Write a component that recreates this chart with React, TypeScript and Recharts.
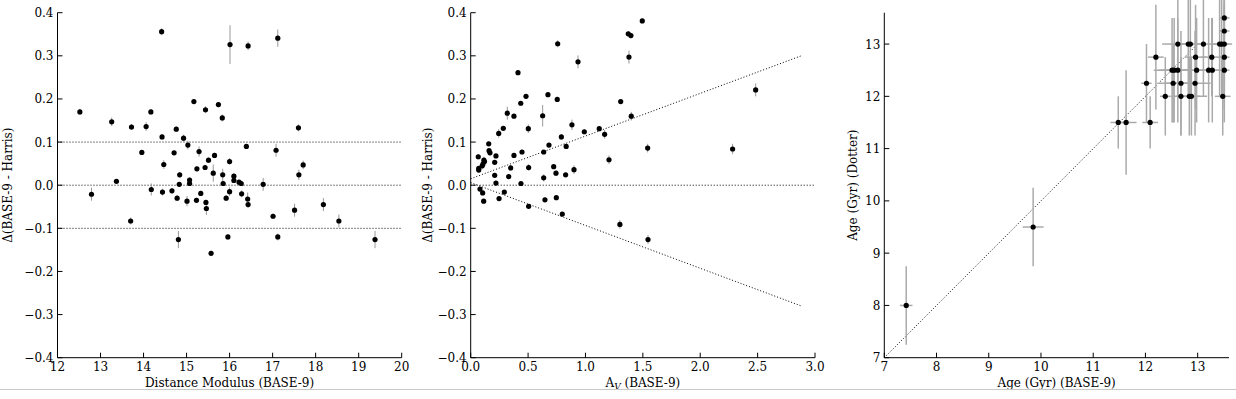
import React from "react";
import { ScatterChart, Scatter, XAxis, YAxis, ErrorBar, ReferenceLine, Label } from "recharts";

const FONT = "DejaVu Serif, serif";

// left panel: distance modulus vs delta
const dmBase9 = [
  12.52, 12.79, 13.26, 13.37, 13.7, 13.72, 13.96, 14.06, 14.17, 14.18, 14.42, 14.43, 14.47, 14.44,
  14.66, 14.71, 14.76, 14.78, 14.81, 14.84, 14.83, 14.93, 15.01, 15.03, 15.07, 15.07, 15.17, 15.23,
  15.24, 15.29, 15.33, 15.43, 15.44, 15.45, 15.46, 15.51, 15.57, 15.62, 15.65, 15.74, 15.83, 15.84,
  15.85, 15.92, 15.96, 16.0, 16.01, 16.0, 16.1, 16.1, 16.22, 16.27, 16.28, 16.39, 16.42, 16.43,
  16.43, 16.78, 17.01, 17.08, 17.12, 17.12, 17.51, 17.6, 17.61, 17.71, 18.18, 18.54, 19.38,
];
const dmDelta = [
  0.17, -0.021, 0.147, 0.009, -0.083, 0.135, 0.076, 0.136, 0.17, -0.01, 0.356, 0.112, 0.048, -0.016,
  -0.013, 0.075, 0.13, -0.03, -0.126, 0.024, 0.002, 0.109, -0.037, 0.093, 0.012, 0.004, 0.194, -0.035,
  0.038, 0.078, -0.019, 0.041, 0.175, -0.04, -0.054, 0.058, -0.158, 0.028, 0.069, 0.187, 0.156, 0.024,
  0.004, -0.03, -0.12, -0.015, 0.326, 0.055, 0.021, 0.011, 0.007, 0.004, -0.02, 0.09, -0.032, -0.045,
  0.323, 0.002, -0.072, 0.081, 0.341, -0.12, -0.058, 0.133, 0.024, 0.047, -0.045, -0.083, -0.126,
];
const dmErr = [
  0.007, 0.015, 0.01, 0.005, 0.008, 0.007, 0.005, 0.01, 0.006, 0.014, 0.008, 0.006, 0.01, 0.008,
  0.006, 0.005, 0.006, 0.006, 0.02, 0.006, 0.005, 0.008, 0.012, 0.01, 0.006, 0.005, 0.005, 0.006,
  0.006, 0.012, 0.006, 0.006, 0.008, 0.006, 0.015, 0.006, 0.006, 0.02, 0.006, 0.006, 0.008, 0.014,
  0.006, 0.006, 0.006, 0.01, 0.045, 0.008, 0.006, 0.006, 0.005, 0.005, 0.008, 0.005, 0.015, 0.007,
  0.01, 0.015, 0.006, 0.015, 0.02, 0.008, 0.015, 0.008, 0.012, 0.01, 0.015, 0.015, 0.02,
];

// middle panel: extinction vs delta
const avBase9 = [
  0.066, 0.07, 0.07, 0.1, 0.107, 0.115, 0.12, 0.081, 0.104, 0.113, 0.157, 0.16, 0.168, 0.209, 0.22,
  0.209, 0.22, 0.244, 0.247, 0.284, 0.293, 0.319, 0.331, 0.348, 0.377, 0.377, 0.412, 0.436, 0.447,
  0.438, 0.482, 0.502, 0.505, 0.505, 0.627, 0.636, 0.636, 0.647, 0.673, 0.682, 0.723, 0.743, 0.746,
  0.754, 0.758, 0.79, 0.798, 0.827, 0.832, 0.882, 0.9, 0.935, 0.99, 1.12, 1.167, 1.205, 1.3, 1.307,
  1.373, 1.379, 1.396, 1.399, 1.495, 1.542, 1.545, 2.282, 2.483,
];
const avDelta = [
  0.066, 0.039, 0.035, 0.045, 0.049, 0.058, 0.055, -0.009, -0.018, -0.037, 0.096, 0.08, 0.075, 0.053,
  0.068, 0.023, 0.005, 0.12, -0.031, 0.132, -0.016, 0.167, 0.02, 0.04, 0.16, 0.069, 0.261, 0.19, 0.077,
  0.004, 0.206, 0.131, 0.041, -0.049, 0.161, 0.077, 0.017, -0.034, 0.21, 0.093, 0.043, 0.028, -0.029,
  0.199, 0.328, 0.112, -0.067, 0.024, 0.09, 0.14, 0.036, 0.286, 0.124, 0.131, 0.118, 0.059, -0.091,
  0.194, 0.351, 0.297, 0.347, 0.16, 0.381, 0.086, -0.126, 0.084, 0.221,
];
const avErr = [
  0.006, 0.005, 0.005, 0.008, 0.01, 0.008, 0.005, 0.005, 0.005, 0.005, 0.005, 0.005, 0.006, 0.005,
  0.005, 0.005, 0.005, 0.01, 0.005, 0.005, 0.005, 0.015, 0.005, 0.005, 0.005, 0.006, 0.005, 0.005,
  0.005, 0.005, 0.005, 0.01, 0.008, 0.005, 0.025, 0.005, 0.008, 0.005, 0.005, 0.005, 0.005, 0.006,
  0.005, 0.005, 0.008, 0.006, 0.005, 0.005, 0.005, 0.012, 0.01, 0.015, 0.006, 0.006, 0.01, 0.01, 0.01,
  0.005, 0.005, 0.015, 0.006, 0.01, 0.005, 0.01, 0.01, 0.012, 0.015,
];
// dotted envelope lines in the middle panel
const avUpper = [{ x: 0, y: 0.015 }, { x: 2.88, y: 0.3 }];
const avLower = [{ x: 0, y: 0.006 }, { x: 2.88, y: -0.28 }];

// right panel: ages
const ageBase9 = [
  7.42, 9.85, 11.48, 11.63, 12.09, 12.02, 12.2, 12.38, 12.53, 12.68, 12.95, 12.51, 12.55, 12.62, 12.68,
  12.84, 12.88, 12.62, 12.82, 12.86, 12.98, 12.96, 13.11, 13.21, 13.28, 13.27, 13.42, 13.46, 13.51,
  13.51, 13.51, 13.51, 13.51, 13.48,
];
const ageDotter = [
  8.0, 9.5, 11.5, 11.5, 11.5, 12.25, 12.75, 12.0, 12.25, 12.25, 12.25, 12.5, 12.5, 12.5, 12.0, 12.0,
  12.0, 13.0, 13.0, 13.0, 12.5, 12.75, 13.0, 12.5, 12.5, 12.75, 13.0, 13.0, 13.0, 13.5, 13.25, 12.75,
  12.5, 12.0,
];
const ageBase9Err = [
  0.12, 0.2, 0.15, 0.2, 0.15, 0.1, 0.15, 0.1, 0.3, 0.3, 0.3, 0.35, 0.3, 0.3, 0.2, 0.2, 0.3, 0.3, 0.2,
  0.2, 0.3, 0.2, 0.2, 0.2, 0.2, 0.2, 0.15, 0.15, 0.15, 0.1, 0.1, 0.1, 0.1, 0.15,
];
const ageDotterErr = [
  0.75, 0.75, 0.5, 1.0, 0.5, 0.75, 1.0, 0.75, 0.75, 1.0, 1.0, 1.0, 1.0, 1.0, 0.75, 0.75, 0.75, 1.0,
  1.0, 1.0, 1.0, 1.0, 1.0, 1.0, 1.0, 0.75, 1.0, 1.0, 1.0, 1.0, 1.0, 1.0, 1.0, 0.75,
];
const ageOneToOne = [{ x: 7, y: 7 }, { x: 13, y: 13 }];

const dmTicks = [12, 13, 14, 15, 16, 17, 18, 19, 20];
const deltaTicks = [-0.4, -0.3, -0.2, -0.1, 0, 0.1, 0.2, 0.3, 0.4];
const avTicks = [0, 0.5, 1, 1.5, 2, 2.5, 3];
const ageTicks = [7, 8, 9, 10, 11, 12, 13];

const dmData = dmBase9.map((x, i) => ({ x, y: dmDelta[i], ey: dmErr[i] }));
const avData = avBase9.map((x, i) => ({ x, y: avDelta[i], ey: avErr[i] }));
const ageData = ageBase9.map((x, i) => ({ x, y: ageDotter[i], ex: ageBase9Err[i], ey: ageDotterErr[i] }));

const fmt1 = (v: number) => (v < 0 ? "\u2212" : "") + Math.abs(v).toFixed(1);
const fmt0 = (v: number) => String(v);

type Side = "bottom" | "left" | "top" | "right";

// inward matplotlib-style tick, with optional label
function tickFor(side: Side, fmt?: (v: number) => string) {
  return (props: any) => {
    const { x, y, payload } = props;
    const len = 5;
    let x2 = x;
    let y2 = y;
    if (side === "bottom") y2 = y - len;
    if (side === "top") y2 = y + len;
    if (side === "left") x2 = x + len;
    if (side === "right") x2 = x - len;
    return (
      <g>
        <line x1={x} y1={y} x2={x2} y2={y2} stroke="#000" strokeWidth={1} />
        {fmt && side === "bottom" && (
          <text x={x} y={y + 13.5} textAnchor="middle" fontSize={12} fontFamily={FONT} fill="#000">
            {fmt(payload.value)}
          </text>
        )}
        {fmt && side === "left" && (
          <text x={x - 4} y={y + 4.5} textAnchor="end" fontSize={12} fontFamily={FONT} fill="#000">
            {fmt(payload.value)}
          </text>
        )}
      </g>
    );
  };
}

const dot = (props: any) => <circle cx={props.cx} cy={props.cy} r={2.6} fill="#000" />;

function xLabel(text: React.ReactNode) {
  return (props: any) => {
    const vb = props.viewBox;
    return (
      <text x={vb.x + vb.width / 2} y={vb.y + 29.5} textAnchor="middle" fontSize={12} fontFamily={FONT} fill="#000">
        {text}
      </text>
    );
  };
}

function yLabel(text: string, cx: number) {
  return (props: any) => {
    const vb = props.viewBox;
    const cy = vb.y + vb.height / 2;
    return (
      <text
        x={cx}
        y={cy}
        dy="0.35em"
        transform={`rotate(-90 ${cx} ${cy})`}
        textAnchor="middle"
        fontSize={12}
        fontFamily={FONT}
        fill="#000"
      >
        {text}
      </text>
    );
  };
}

interface PanelProps {
  left: number;
  width: number;
  yAxisWidth: number;
  marginRight: number;
  xDomain: [number, number];
  yDomain: [number, number];
  xTicks: number[];
  yTicks: number[];
  xFmt: (v: number) => string;
  yFmt: (v: number) => string;
  xText: React.ReactNode;
  yText: string;
  yLabelX: number;
  children: React.ReactNode;
}

function Panel(p: PanelProps) {
  return (
    <div style={{ position: "absolute", left: p.left, top: 0 }}>
      <ScatterChart
        width={p.width}
        height={399}
        margin={{ top: 12.7, right: p.marginRight, bottom: 0, left: 0 }}
      >
        <XAxis
          xAxisId="b"
          type="number"
          dataKey="x"
          domain={p.xDomain}
          ticks={p.xTicks}
          interval={0}
          allowDataOverflow
          height={41.3}
          tickSize={0}
          tickMargin={0}
          tickLine={false}
          axisLine={{ stroke: "#000" }}
          tick={tickFor("bottom", p.xFmt)}
        >
          <Label content={xLabel(p.xText)} />
        </XAxis>
        <XAxis
          xAxisId="t"
          orientation="top"
          type="number"
          domain={p.xDomain}
          ticks={p.xTicks}
          interval={0}
          allowDataOverflow
          height={0}
          tickSize={0}
          tickMargin={0}
          tickLine={false}
          axisLine={{ stroke: "#000" }}
          tick={tickFor("top")}
        />
        <YAxis
          yAxisId="l"
          type="number"
          dataKey="y"
          domain={p.yDomain}
          ticks={p.yTicks}
          interval={0}
          allowDataOverflow
          width={p.yAxisWidth}
          tickSize={0}
          tickMargin={0}
          tickLine={false}
          axisLine={{ stroke: "#000" }}
          tick={tickFor("left", p.yFmt)}
        >
          <Label content={yLabel(p.yText, p.yLabelX)} />
        </YAxis>
        <YAxis
          yAxisId="r"
          orientation="right"
          type="number"
          domain={p.yDomain}
          ticks={p.yTicks}
          interval={0}
          allowDataOverflow
          width={0}
          tickSize={0}
          tickMargin={0}
          tickLine={false}
          axisLine={{ stroke: "#000" }}
          tick={tickFor("right")}
        />
        {p.children}
      </ScatterChart>
    </div>
  );
}

const dotted = { stroke: "#000", strokeWidth: 1, strokeDasharray: "1 2" };

export default function App() {
  return (
    <div style={{ position: "absolute", left: 0, top: 0, width: 1236, height: 399, background: "#fff" }}>
      <Panel
        left={0}
        width={410}
        yAxisWidth={57.5}
        marginRight={8.3}
        xDomain={[12, 20]}
        yDomain={[-0.4, 0.4]}
        xTicks={dmTicks}
        yTicks={deltaTicks}
        xFmt={fmt0}
        yFmt={fmt1}
        xText="Distance Modulus (BASE-9)"
        yText="Δ(BASE-9 - Harris)"
        yLabelX={8}
      >
        <ReferenceLine xAxisId="b" yAxisId="l" y={0.1} {...dotted} />
        <ReferenceLine xAxisId="b" yAxisId="l" y={0} {...dotted} />
        <ReferenceLine xAxisId="b" yAxisId="l" y={-0.1} {...dotted} />
        <Scatter xAxisId="b" yAxisId="l" data={dmData} shape={dot} isAnimationActive={false}>
          <ErrorBar dataKey="ey" direction="y" width={0} stroke="#999" strokeWidth={1} />
        </Scatter>
      </Panel>
      <Panel
        left={420}
        width={412}
        yAxisWidth={50.7}
        marginRight={17}
        xDomain={[0, 3]}
        yDomain={[-0.4, 0.4]}
        xTicks={avTicks}
        yTicks={deltaTicks}
        xFmt={fmt1}
        yFmt={fmt1}
        xText={
          <>
            A<tspan dy={3} fontSize={9} fontStyle="italic">V</tspan>
            <tspan dy={-3}> (BASE-9)</tspan>
          </>
        }
        yText="Δ(BASE-9 - Harris)"
        yLabelX={8}
      >
        <ReferenceLine xAxisId="b" yAxisId="l" y={0} {...dotted} />
        <ReferenceLine xAxisId="b" yAxisId="l" segment={avUpper} {...dotted} />
        <ReferenceLine xAxisId="b" yAxisId="l" segment={avLower} {...dotted} />
        <Scatter xAxisId="b" yAxisId="l" data={avData} shape={dot} isAnimationActive={false}>
          <ErrorBar dataKey="ey" direction="y" width={0} stroke="#999" strokeWidth={1} />
        </Scatter>
      </Panel>
      <Panel
        left={840}
        width={396}
        yAxisWidth={44.3}
        marginRight={7}
        xDomain={[7, 13.6]}
        yDomain={[7, 13.6]}
        xTicks={ageTicks}
        yTicks={ageTicks}
        xFmt={fmt0}
        yFmt={fmt0}
        xText="Age (Gyr) (BASE-9)"
        yText="Age (Gyr) (Dotter)"
        yLabelX={13}
      >
        <ReferenceLine xAxisId="b" yAxisId="l" segment={ageOneToOne} {...dotted} />
        <Scatter xAxisId="b" yAxisId="l" data={ageData} shape={dot} isAnimationActive={false}>
          <ErrorBar dataKey="ey" direction="y" width={0} stroke="#aaa" strokeWidth={1.5} />
          <ErrorBar dataKey="ex" direction="x" width={0} stroke="#aaa" strokeWidth={1.5} />
        </Scatter>
      </Panel>
      <div style={{ position: "absolute", left: 0, top: 389, width: 1236, height: 1, background: "#c8c8c8" }} />
    </div>
  );
}
